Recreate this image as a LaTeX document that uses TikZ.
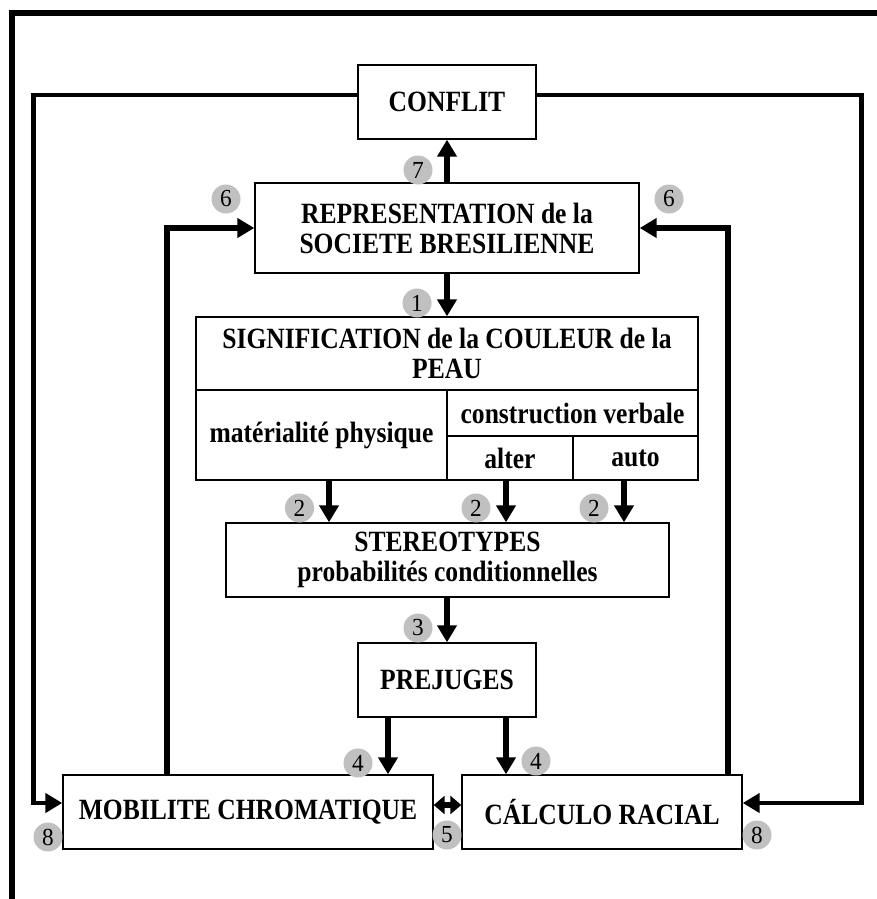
\documentclass[tikz,border=0pt]{standalone}
\usepackage{fontspec}
\setmainfont{Liberation Serif}[FakeStretch=0.87]
\newfontfamily\numfont{Liberation Serif}[FakeStretch=0.95]
\usetikzlibrary{arrows.meta}
\definecolor{circgray}{RGB}{192,192,192}
\begin{document}
\begin{tikzpicture}[x=1pt,y=-1pt,
  box/.style={draw,line width=1.4pt,inner sep=0pt,align=center,
    font=\bfseries\fontsize{29.4}{30}\selectfont},
  num/.style={circle,fill=circgray,inner sep=0pt,minimum size=29pt,
    font=\numfont\fontsize{24.5}{24.5}\selectfont},
  arr/.style={line width=5.5pt,line join=miter,-{Triangle[width=19pt,length=17pt]}},
  arrboth/.style={line width=5.5pt,{Triangle[width=18pt,length=11pt]}-{Triangle[width=18pt,length=11pt]}},
  loopline/.style={line width=4.5pt,line join=miter,-{Triangle[width=19pt,length=17pt]}},
  frame/.style={line width=6pt,line join=miter}]
\useasboundingbox (0,0) rectangle (876,899);
\fill[white] (0,0) rectangle (876,899);
% outer frame
\draw[frame] (12,902) -- (12,13) -- (880,13);
% boxes
\node[box,minimum width=178pt,minimum height=74pt] (conflit) at (447,102) {CONFLIT};
\node[box,minimum width=384pt,minimum height=90pt] (rep) at (447,228) {REPRESENTATION de la\\SOCIETE BRESILIENNE};
\node[box,minimum width=502pt,minimum height=73pt] (sigtop) at (447,353.5) {SIGNIFICATION de la COULEUR de la\\PEAU};
\node[box,minimum width=251pt,minimum height=90pt] (mat) at (321.5,435) {matérialité physique};
\node[box,minimum width=251pt,minimum height=46pt] (cons) at (572.5,413) {construction verbale};
\node[box,minimum width=126pt,minimum height=44pt] (alter) at (510,458) {alter};
\node[box,minimum width=125pt,minimum height=44pt] (auto) at (635.5,458) {auto};
\node[box,minimum width=443pt,minimum height=74pt] (ster) at (447.5,560) {STEREOTYPES\\probabilités conditionnelles};
\node[box,minimum width=178pt,minimum height=74pt] (prej) at (447,680) {PREJUGES};
\node[box,minimum width=370pt,minimum height=74pt] (mob) at (248,812) {MOBILITE CHROMATIQUE};
\node[box,minimum width=280pt,minimum height=74pt] (calc) at (602,812) {CÁLCULO RACIAL};
% numbers
\node[num] (n7) at (418,170) {7};
\node[num] (n6l) at (226,199) {6};
\node[num] (n6r) at (669,199) {6};
\node[num] (n1) at (417,303) {1};
\node[num] (n2a) at (299.5,508) {2};
\node[num] (n2b) at (476,508) {2};
\node[num] (n2c) at (594,508) {2};
\node[num] (n3) at (418,628) {3};
\node[num] (n4l) at (358,763) {4};
\node[num] (n4r) at (536,761) {4};
\node[num] (n5) at (447,835) {5};
\node[num] (n8l) at (48,837) {8};
\node[num] (n8r) at (757,835) {8};
% arrows
\draw[arr] (rep.north) -- (conflit.south);
\draw[arr] (rep.south) -- (sigtop.north);
\coordinate (s2a) at ([xshift=7.5pt]mat.south);
\coordinate (s2b) at ([xshift=-4pt]alter.south);
\coordinate (s2c) at ([xshift=-11.5pt]auto.south);
\draw[arr] (s2a) -- (s2a |- ster.north);
\draw[arr] (s2b) -- (s2b |- ster.north);
\draw[arr] (s2c) -- (s2c |- ster.north);
\draw[arr] ([xshift=-0.5pt]ster.south) -- (prej.north);
\coordinate (p4l) at ([xshift=-59pt]prej.south);
\coordinate (p4r) at ([xshift=59pt]prej.south);
\draw[arr] (p4l) -- (p4l |- mob.north);
\draw[arr] (p4r) -- (p4r |- calc.north);
\draw[arrboth] ([yshift=7pt]mob.east) -- ([yshift=7pt]calc.west);
\draw[arr] ([xshift=-81pt]mob.north) |- (rep.west);
\draw[arr] ([xshift=126pt]calc.north) |- (rep.east);
\draw[loopline] ([yshift=7pt]conflit.west) -- ++(-324,0) |- ([yshift=9pt]mob.west);
\draw[loopline] ([yshift=7pt]conflit.east) -- ++(325,0) |- ([yshift=9pt]calc.east);
\end{tikzpicture}
\end{document}
